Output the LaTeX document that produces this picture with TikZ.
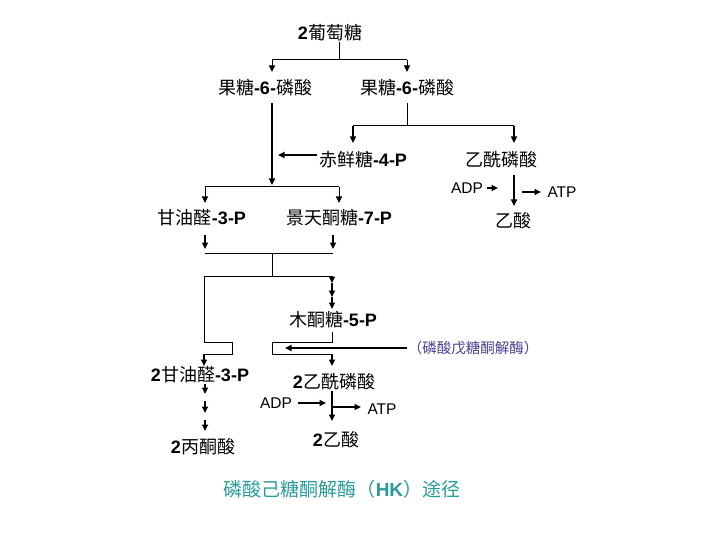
\documentclass[tikz,border=0pt]{standalone}
\usepackage{fontspec}
\setmainfont{Liberation Sans}
\newfontfamily\zhfont{Noto Sans CJK SC}
\usetikzlibrary{arrows.meta}
\newcommand{\zh}[1]{{\zhfont #1}}
\newcommand{\lb}[1]{\textbf{#1}}
\definecolor{titlecol}{HTML}{2A9A9A}
\definecolor{enzcol}{HTML}{4A3F8F}
\tikzset{
  txt/.style={inner sep=0pt, text height=15pt, text depth=1.5pt, font=\fontsize{18}{20}\selectfont},
  sml/.style={inner sep=0pt, text height=12pt, text depth=1pt, font=\fontsize{15.5}{18}\selectfont},
  enz/.style={inner sep=0pt, text height=12pt, text depth=1pt, text=enzcol, font=\fontsize{14.5}{16}\selectfont},
  ttl/.style={inner sep=0pt, text height=15pt, text depth=1.5pt, text=titlecol, font=\fontsize{19}{22}\selectfont},
  ln/.style={line width=1pt},
  lnb/.style={line width=2pt},
  arr/.style={-{Triangle[length=6.5pt,width=6pt]}},
}
\begin{document}
\begin{tikzpicture}[x=1pt,y=-1pt]
\useasboundingbox (0,0) rectangle (720,540);

% nodes
\node[txt] (glu)  at (330,33)  {\lb{2}\zh{葡萄糖}};
\node[txt] (f6pL) at (265,88)  {\zh{果糖}\lb{-6-}\zh{磷酸}};
\node[txt] (f6pR) at (407,88)  {\zh{果糖}\lb{-6-}\zh{磷酸}};
\node[txt] (e4p)  at (363,160) {\zh{赤鲜糖}\lb{-4-P}};
\node[txt] (acp)  at (501,160) {\zh{乙酰磷酸}};
\node[sml] (adpA) at (467,188) {ADP};
\node[sml] (atpA) at (562,192) {ATP};
\node[txt] (ac)   at (513,221) {\zh{乙酸}};
\node[txt] (g3p)  at (202,218) {\zh{甘油醛}\lb{-3-P}};
\node[txt] (s7p)  at (339,218) {\zh{景天酮糖}\lb{-7-P}};
\node[txt] (x5p)  at (333,320) {\zh{木酮糖}\lb{-5-P}};
\node[enz] (pk)   at (473,348) {\zh{（磷酸戊糖酮解酶）}};
\node[txt] (g3pB) at (200,375) {\lb{2}\zh{甘油醛}\lb{-3-P}};
\node[txt] (acpB) at (334,382) {\lb{2}\zh{乙酰磷酸}};
\node[sml] (adpB) at (276,403) {ADP};
\node[sml] (atpB) at (382,409) {ATP};
\node[txt] (acB)  at (336,440) {\lb{2}\zh{乙酸}};
\node[txt] (pyr)  at (203,447) {\lb{2}\zh{丙酮酸}};
\node[ttl] (title) at (342,490) {\zh{磷酸己糖酮解酶（}\lb{HK}\zh{）途径}};

% junction coordinates
\coordinate (gluB) at (339,42);
\coordinate (j1) at (339,60);
\coordinate (j1L) at (272,60);
\coordinate (j1R) at (407,60);
\coordinate (f6pLin) at (272,72);
\coordinate (f6pRin) at (407,72);
\coordinate (f6pLout) at (272,103);
\coordinate (f6pRout) at (407,103);
\coordinate (j2) at (407,126);
\coordinate (j2L) at (353,126);
\coordinate (j2R) at (514,126);
\coordinate (e4pin) at (353,143);
\coordinate (acpin) at (514,143);
\coordinate (e4pout) at (317,155);
\coordinate (e4ptip) at (278,155);
\coordinate (mainTip) at (272,185);
\coordinate (j3L) at (205,187);
\coordinate (j3R) at (339,187);
\coordinate (g3pin) at (205,203);
\coordinate (s7pin) at (339,203);
\coordinate (acpout) at (514,175);
\coordinate (acin) at (514,206);
\coordinate (adpAe) at (487,188);
\coordinate (adpAt) at (498,188);
\coordinate (atpAs) at (522,192);
\coordinate (atpAt) at (541,192);
\coordinate (g3pout) at (205,235);
\coordinate (s7pout) at (333,235);
\coordinate (g3pt) at (205,249);
\coordinate (s7pt) at (333,249);
\coordinate (j4L) at (205,253);
\coordinate (j4R) at (333,253);
\coordinate (j4) at (272,253);
\coordinate (j5) at (272,276);
\coordinate (j5L) at (204,276);
\coordinate (j5R) at (332,276);
\coordinate (c1) at (332,283);
\coordinate (c2) at (332,297);
\coordinate (c3) at (332,309);
\coordinate (x5pout) at (332,332);
\coordinate (pkout) at (407,348);
\coordinate (pktip) at (285,348);
\coordinate (bL) at (204,354);
\coordinate (bR) at (332,354);
\coordinate (g3pBin) at (204,366);
\coordinate (acpBin) at (332,366);
\coordinate (d1) at (205,384);
\coordinate (d2) at (205,394);
\coordinate (d3) at (205,401);
\coordinate (d4) at (205,413);
\coordinate (d5) at (205,420);
\coordinate (d6) at (205,431);
\coordinate (adpBe) at (298,403);
\coordinate (adpBt) at (326,403);
\coordinate (acpBout) at (332,391);
\coordinate (acBin) at (332,421);
\coordinate (jB) at (332,407);
\coordinate (atpBt) at (361,407);

% thin connectors
\draw[ln] (gluB) -- (j1);
\draw[ln] (j1L) -- (j1R);
\draw[ln,arr] (j1L) -- (f6pLin);
\draw[ln,arr] (j1R) -- (f6pRin);
\draw[ln] (f6pRout) -- (j2);
\draw[ln] (j2L) -- (j2R);
\draw[line width=1.3pt,arr] (j2L) -- (e4pin);
\draw[line width=1.3pt,arr] (j2R) -- (acpin);
\draw[ln] (j3L) -- (j3R);
\draw[ln,arr] (j3L) -- (g3pin);
\draw[ln,arr] (j3R) -- (s7pin);
\draw[ln] (j4L) -- (j4R);
\draw[ln] (j4) -- (j5);
\draw[ln] (j5L) -- (j5R);
\draw[ln] (j5L) -- (204,342) -- (232,342) -- (232,354) -- (bL);
\draw[ln] (x5pout) -- (332,342) -- (272,342) -- (272,354) -- (bR);

% thick connectors
\draw[lnb,arr] (f6pLout) -- (mainTip);
\draw[lnb,arr] (e4pout) -- (e4ptip);
\draw[lnb,arr] (acpout) -- (acin);
\draw[lnb,arr] (adpAe) -- (adpAt);
\draw[lnb,arr] (atpAs) -- (atpAt);
\draw[lnb,arr] (g3pout) -- (g3pt);
\draw[lnb,arr] (s7pout) -- (s7pt);
\draw[lnb,arr] (j5R) -- (c1);
\draw[lnb,arr] (c1) -- (c2);
\draw[lnb,arr] (c2) -- (c3);
\draw[lnb,arr] (pkout) -- (pktip);
\draw[line width=1.5pt,arr] (bL) -- (g3pBin);
\draw[line width=1.5pt,arr] (bR) -- (acpBin);
\draw[lnb,arr] (d1) -- (d2);
\draw[lnb,arr] (d3) -- (d4);
\draw[lnb,arr] (d5) -- (d6);
\draw[lnb,arr] (adpBe) -- (adpBt);
\draw[lnb,arr] (acpBout) -- (acBin);
\draw[lnb,arr] (jB) -- (atpBt);
\end{tikzpicture}
\end{document}
